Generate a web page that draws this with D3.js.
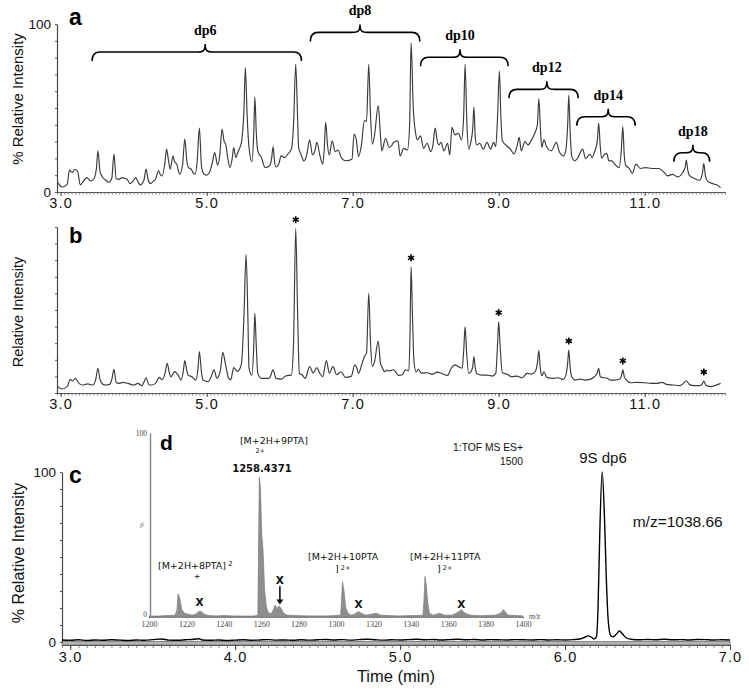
<!DOCTYPE html>
<html><head><meta charset="utf-8">
<script src="https://cdn.jsdelivr.net/npm/d3@7"></script>
<style>body{margin:0;background:#fff}svg{display:block}</style>
</head><body><svg id="chart" width="749" height="692"></svg>
<script>
// ---------- DATA ----------
// Panel a: total ion chromatogram [time (min), % relative intensity]
const traceA = [[2.96,5.6],[3.02,3],[3.09,4.6],[3.12,13],[3.16,11.6],[3.19,13.4],[3.23,12.6],[3.27,4.2],[3.32,7],[3.36,8.6],[3.41,6.6],[3.45,7.5],[3.49,14],[3.51,24.5],[3.54,12],[3.58,8.5],[3.62,7],[3.66,5.8],[3.70,8],[3.73,22.6],[3.76,8],[3.80,7.5],[3.84,8.6],[3.88,8],[3.91,7.6],[3.95,5],[3.99,6.5],[4.03,8.6],[4.06,6],[4.09,4.2],[4.14,7],[4.17,13.6],[4.20,7],[4.23,5],[4.27,6.5],[4.30,7.6],[4.34,12.6],[4.37,10],[4.39,9.5],[4.43,18],[4.45,25.5],[4.48,18],[4.50,13.6],[4.54,21.5],[4.56,18],[4.59,16.6],[4.63,10.6],[4.67,16],[4.70,31.5],[4.73,18],[4.75,14.6],[4.79,13.5],[4.82,11],[4.84,10.6],[4.87,18],[4.90,38],[4.93,15],[4.96,11],[5.00,10],[5.05,13],[5.08,18],[5.11,23.5],[5.15,16],[5.18,22],[5.21,37.5],[5.24,30],[5.26,28.5],[5.29,20],[5.32,14.6],[5.35,20],[5.37,26.5],[5.40,20.5],[5.43,24],[5.46,27],[5.48,30.5],[5.51,48],[5.53,74],[5.555,45],[5.58,26.5],[5.62,18],[5.645,35],[5.66,56.5],[5.68,35],[5.70,24.5],[5.75,20.5],[5.80,14.6],[5.86,15.5],[5.89,20],[5.91,27],[5.93,18],[5.95,15],[5.99,17],[6.02,21.5],[6.07,20.5],[6.11,22.5],[6.16,25.5],[6.19,40],[6.22,76],[6.245,45],[6.26,26.5],[6.30,21.5],[6.33,18.5],[6.37,22],[6.41,31],[6.45,22],[6.48,24],[6.51,29.5],[6.55,22],[6.59,16.6],[6.61,25],[6.63,41.5],[6.655,28],[6.68,22],[6.72,30.5],[6.76,24],[6.80,25],[6.85,20],[6.91,18.6],[6.99,19.5],[7.02,34.5],[7.05,31],[7.08,21],[7.12,28],[7.16,42.5],[7.19,42],[7.22,76],[7.245,45],[7.27,28.5],[7.30,34],[7.35,51.5],[7.38,34],[7.40,24.5],[7.45,32],[7.50,26.5],[7.54,28],[7.56,29.5],[7.62,30.5],[7.65,21.5],[7.70,26],[7.75,25],[7.78,40],[7.80,89],[7.83,50],[7.86,35.5],[7.89,31],[7.93,33.5],[7.97,26],[8.02,29],[8.07,24],[8.10,28],[8.13,38],[8.16,30],[8.18,28],[8.21,29.5],[8.25,24.5],[8.30,29],[8.33,22],[8.36,38.5],[8.40,34],[8.45,35],[8.49,31],[8.52,45],[8.54,76],[8.565,40],[8.59,25.5],[8.62,30],[8.645,38],[8.66,50.5],[8.68,32],[8.70,28],[8.74,29],[8.79,25.5],[8.84,29.5],[8.89,25.5],[8.93,29.5],[8.96,27],[8.985,45],[9.01,72],[9.03,45],[9.05,30.5],[9.11,27.5],[9.16,25.5],[9.21,22.6],[9.25,27],[9.28,32.5],[9.31,24.5],[9.36,30],[9.40,28],[9.45,31],[9.49,34.5],[9.53,40],[9.55,55.5],[9.575,35],[9.59,26.5],[9.62,31],[9.66,26.5],[9.72,24.5],[9.79,29.5],[9.83,24],[9.89,21.5],[9.92,25],[9.945,40],[9.96,57.5],[9.98,35],[10.00,21.5],[10.04,18.6],[10.08,20],[10.15,25.5],[10.19,20],[10.25,22.5],[10.28,20.5],[10.31,23.5],[10.35,30],[10.37,41],[10.39,28],[10.41,20],[10.45,22.5],[10.48,23],[10.51,18.5],[10.55,18.5],[10.59,16.5],[10.65,14.5],[10.68,25],[10.70,39],[10.72,22],[10.74,16],[10.79,14],[10.83,11],[10.88,16.6],[10.94,14],[11.01,14.5],[11.10,14],[11.19,14],[11.26,12],[11.31,9.6],[11.38,10.5],[11.45,9],[11.52,11.5],[11.555,15],[11.57,19],[11.59,13],[11.61,10],[11.68,8],[11.75,7],[11.79,11],[11.81,17],[11.83,10],[11.86,6.5],[11.93,5],[12.0,4],[12.04,2.6]];

// Panel b: extracted chromatogram [time (min), relative intensity]
const traceB = [[2.96,3.8],[3.02,2.4],[3.09,3.8],[3.13,8.2],[3.16,7.2],[3.20,8.8],[3.25,5.8],[3.30,4.8],[3.37,5.5],[3.44,4.8],[3.48,8],[3.51,14.9],[3.54,8],[3.58,5.2],[3.62,4.8],[3.67,5.2],[3.70,8],[3.73,14.3],[3.76,6.5],[3.80,5.8],[3.85,6.4],[3.92,5.8],[4.00,4.8],[4.06,5.8],[4.11,4.4],[4.14,6.5],[4.17,9.2],[4.21,5],[4.25,4.8],[4.30,5.8],[4.35,9.4],[4.39,8],[4.43,12],[4.46,17.9],[4.49,12],[4.51,9.8],[4.56,12.9],[4.61,10.8],[4.65,7.8],[4.68,13],[4.70,19.5],[4.73,13],[4.75,10.6],[4.80,9.8],[4.85,7.8],[4.88,14],[4.90,24.9],[4.93,12],[4.95,7.8],[5.02,6.8],[5.06,9.5],[5.10,13.9],[5.14,9],[5.19,14],[5.22,24.5],[5.26,16.9],[5.30,9],[5.33,8],[5.37,15.3],[5.42,13],[5.46,15],[5.48,19],[5.51,45],[5.54,83.5],[5.565,45],[5.58,15],[5.62,10.8],[5.645,28],[5.66,48],[5.68,28],[5.70,12],[5.75,8.8],[5.81,8.8],[5.86,9],[5.91,13.9],[5.95,8.8],[6.02,8.4],[6.09,10.4],[6.16,10.8],[6.19,30],[6.22,99],[6.245,50],[6.27,11.8],[6.31,10.8],[6.35,8.8],[6.41,15.9],[6.46,12],[6.51,15.3],[6.55,11.8],[6.59,9.8],[6.64,19.5],[6.68,12],[6.73,15.9],[6.78,11],[6.84,12.8],[6.90,9.4],[6.98,10],[7.03,16.9],[7.06,14.8],[7.08,11.8],[7.13,18],[7.16,21.9],[7.19,24],[7.22,60],[7.245,30],[7.27,15.9],[7.30,19],[7.35,31.3],[7.38,18],[7.40,15.9],[7.44,12.8],[7.47,13.8],[7.50,13.3],[7.56,14],[7.63,10.6],[7.68,11],[7.72,14],[7.77,13.5],[7.785,35],[7.80,76],[7.82,45],[7.84,19],[7.87,12.5],[7.90,14.3],[7.94,12],[8.02,12.2],[8.09,11.2],[8.16,12.6],[8.23,11.6],[8.30,10.6],[8.35,14.9],[8.40,16.9],[8.45,15.9],[8.50,14.9],[8.52,25],[8.54,40],[8.56,25],[8.59,11.8],[8.62,12.8],[8.645,16],[8.66,21.9],[8.68,15],[8.70,11.8],[8.77,10.8],[8.84,10.8],[8.91,10.2],[8.96,11.8],[8.985,30],[9.00,43],[9.02,28],[9.05,12.2],[9.11,11.4],[9.18,9.8],[9.25,10.2],[9.32,9.2],[9.39,11.8],[9.45,11.4],[9.50,12.8],[9.53,18],[9.55,25.5],[9.57,15],[9.59,10.4],[9.62,12.8],[9.66,9.4],[9.75,8.8],[9.81,9.2],[9.88,8.2],[9.92,10.8],[9.945,18],[9.96,25.9],[9.98,15],[10.00,9.8],[10.05,7.8],[10.12,8.4],[10.18,7.8],[10.25,8.2],[10.31,9.8],[10.35,12],[10.37,14.9],[10.39,10],[10.41,9.4],[10.48,9],[10.53,7.8],[10.59,7.8],[10.66,8.4],[10.68,10],[10.70,13.9],[10.72,10],[10.75,7.8],[10.81,6.2],[10.90,6.4],[11.00,6.2],[11.09,5.8],[11.17,5.8],[11.24,6.4],[11.30,5.2],[11.39,4.8],[11.48,4.4],[11.53,5.8],[11.57,7.4],[11.61,5.2],[11.68,4.4],[11.75,4.4],[11.79,5.5],[11.81,7.2],[11.84,4.5],[11.91,3.8],[11.97,4.6],[12.04,5.8]];

// Panel c: extracted ion chromatogram m/z=1038.66 [time (min), %]
const traceC = [[2.95,1.2],[3.0,1.0],[3.05,1.3],[3.1,0.9],[3.15,1.2],[3.2,1.0],[3.25,1.3],[3.3,1.1],[3.35,0.9],[3.4,1.2],[3.45,1.0],[3.5,1.4],[3.55,1.8],[3.6,1.1],[3.65,1.0],[3.7,1.3],[3.75,1.6],[3.78,1.9],[3.8,1.2],[3.85,1.0],[3.9,1.2],[3.95,0.9],[4.0,1.1],[4.05,1.3],[4.1,1.0],[4.15,1.2],[4.2,1.4],[4.25,1.1],[4.3,1.2],[4.35,1.0],[4.4,1.3],[4.45,1.1],[4.5,1.3],[4.55,1.5],[4.6,1.2],[4.65,1.4],[4.7,1.1],[4.75,1.4],[4.8,1.6],[4.85,1.3],[4.9,1.1],[4.95,1.3],[5.0,1.2],[5.05,1.4],[5.1,1.6],[5.15,1.3],[5.2,1.5],[5.25,1.2],[5.3,1.4],[5.35,1.6],[5.4,1.3],[5.45,1.5],[5.5,1.2],[5.55,1.4],[5.6,1.3],[5.65,1.2],[5.7,1.4],[5.75,1.3],[5.8,1.2],[5.85,1.4],[5.9,1.2],[5.95,1.3],[6.0,1.2],[6.05,1.4],[6.09,1.8],[6.12,2.8],[6.14,3.6],[6.16,2.8],[6.175,1.8],[6.19,3],[6.20,20],[6.21,62],[6.225,100],[6.24,70],[6.25,38],[6.26,15],[6.275,4],[6.29,3],[6.31,4.5],[6.33,6.5],[6.35,4.5],[6.37,2.5],[6.4,1.6],[6.45,1.3],[6.5,1.5],[6.55,1.3],[6.6,1.6],[6.65,1.3],[6.7,1.4],[6.75,1.2],[6.8,1.5],[6.85,1.4],[6.9,1.2],[6.95,1.3],[7.0,1.2]];

// Panel d (inset): mass spectrum [m/z, %]
const spectrumD = [[1200,0.5],[1205,0.5],[1210,0.8],[1214,1],[1215,4],[1215.5,12.5],[1216.5,10],[1217.5,4],[1219,2],[1221,1.5],[1223,1],[1225,1.5],[1226.5,3],[1228,3],[1229.5,1.5],[1232,0.8],[1236,0.6],[1240,0.8],[1245,0.6],[1250,0.5],[1255,0.5],[1258.2,0.8],[1258.6,40],[1259,76],[1259.6,70],[1260.3,45],[1261,36],[1261.8,15],[1262.8,5],[1264,2],[1265.5,2],[1266.5,4],[1267.5,6.5],[1268.5,4.5],[1269.5,6],[1270.8,4.5],[1272,2],[1274,1],[1278,0.8],[1285,0.6],[1290,0.6],[1295,0.6],[1300,0.8],[1302.5,1],[1303,10],[1303.5,19],[1304.3,14],[1305.2,5],[1306.5,2],[1308,1],[1310,1.5],[1311.8,3],[1313.5,2],[1316,1],[1319,1.5],[1321.5,2],[1324,1],[1328,0.8],[1333,0.6],[1338,0.7],[1343,0.8],[1346.5,1],[1347,8],[1347.6,22],[1348.3,17],[1349,8],[1350,2],[1352,1],[1355.5,2],[1358,1],[1362,1],[1365,2.5],[1367,4],[1369,2],[1372,1],[1378,0.7],[1385,1],[1388,2],[1389.5,4],[1390.8,2.5],[1392,1],[1396,0.8],[1400,0.6]];

// tick labels
const timeTicksAB = [3.0, 5.0, 7.0, 9.0, 11.0];
const timeTicksC = [3.0, 4.0, 5.0, 6.0, 7.0];
const mzTicks = [1200, 1220, 1240, 1260, 1280, 1300, 1320, 1340, 1360, 1380, 1400];
const intensityLabels = [0, 100];

// brace annotations in panel a
const braceLabels = ['dp6', 'dp8', 'dp10', 'dp12', 'dp14', 'dp18'];
const braceStart = [3.43, 6.42, 7.93, 9.14, 10.07, 11.40];
const braceEnd = [6.30, 7.92, 9.13, 10.09, 10.87, 11.89];
const braceTip = [4.98, 7.10, 8.47, 9.66, 10.50, 11.66];
const braceLevel = [83.3, 95, 80.2, 61.1, 44.8, 23.4];

// starred peaks in panel b
const starTimes = [6.22, 7.80, 9.00, 9.96, 10.70, 11.81];

// X-marked peaks in inset
const xMarkMz = [1227, 1270, 1312, 1367];
const xMarkLevel = [8, 20, 7, 7];

// ---------- DRAW ----------
const svg = d3.select('#chart');
svg.append('rect').attr('width', 749).attr('height', 692).attr('fill', '#fff');
const SANS = 'Liberation Sans, Arial, sans-serif';
const SERIF = 'Liberation Serif, Times New Roman, serif';

const xAB = d3.scaleLinear().domain([2.95, 12.1]).range([57, 725]);
const yA = d3.scaleLinear().domain([0, 100]).range([192, 24]);
const yB = d3.scaleLinear().domain([0, 100]).range([393, 227]);
const xC = d3.scaleLinear().domain([2.95, 7.0]).range([62, 730]);
const yC = d3.scaleLinear().domain([0, 100]).range([642, 472]);
const xD = d3.scaleLinear().domain([1200, 1400]).range([149, 523]);
const yD = d3.scaleLinear().domain([0, 100]).range([617, 433]);

function minorRange(scale, step) {
  const [a, b] = scale.domain();
  const out = [];
  for (let v = Math.ceil(a / step - 1e-9) * step; v <= b + 1e-9; v += step) out.push(+v.toFixed(4));
  return out;
}

function timeAxis(x, y0, ticks, labelY, fontSize, band) {
  const gMinor = svg.append('g').attr('transform', `translate(0,${y0})`);
  gMinor.call(d3.axisBottom(x).tickValues(minorRange(x, 0.05)).tickSize(band ? 3 : 2.5).tickSizeOuter(0).tickFormat(''));
  gMinor.selectAll('.tick line').attr('stroke', '#666').attr('stroke-width', 0.8);
  gMinor.select('.domain').attr('stroke', '#555').attr('stroke-width', 1);
  const gMaj = svg.append('g').attr('transform', `translate(0,${y0})`);
  gMaj.call(d3.axisBottom(x).tickValues(ticks).tickSize(band ? 5 : 4).tickSizeOuter(0).tickFormat(d3.format('.1f')));
  gMaj.select('.domain').remove();
  gMaj.selectAll('.tick line').attr('stroke', '#444');
  gMaj.attr('font-family', SANS).attr('font-size', fontSize);
  gMaj.selectAll('.tick text').attr('y', labelY).attr('dy', null).attr('fill', '#111').attr('letter-spacing', '1.2px');
}

function intensityAxis(x0, y, showLabels) {
  const g = svg.append('g').attr('transform', `translate(${x0},0)`);
  g.call(d3.axisLeft(y).tickValues(d3.range(0, 101, 10)).tickSize(2).tickSizeOuter(0)
    .tickFormat(d => (showLabels && intensityLabels.includes(d)) ? d : ''));
  g.select('.domain').attr('stroke', '#444').attr('stroke-width', 1.2);
  g.selectAll('.tick line').attr('stroke', '#555');
  g.attr('font-family', SANS).attr('font-size', 13.5);
  g.selectAll('.tick text').attr('x', -6).attr('dy', '0.36em').attr('fill', '#111');
}

function yTitle(text, cx, cy, size) {
  svg.append('text').attr('transform', `translate(${cx},${cy}) rotate(-90)`)
    .attr('text-anchor', 'middle').attr('font-family', SANS).attr('font-size', size)
    .attr('fill', '#111').text(text);
}

function panelLetter(t, x, y, size) {
  svg.append('text').attr('x', x).attr('y', y).attr('font-family', SANS)
    .attr('font-weight', 'bold').attr('font-size', size).attr('fill', '#000').text(t);
}

// ---- Panel a ----
timeAxis(xAB, 192, timeTicksAB, 16, 14.5, false);
intensityAxis(57, yA, true);
yTitle('% Relative Intensity', 23, 99, 15);
panelLetter('a', 69, 25, 23);
const lineA = d3.line().x(d => xAB(d[0])).y(d => yA(d[1])).curve(d3.curveMonotoneX);
svg.append('path').datum(traceA).attr('d', lineA).attr('fill', 'none')
  .attr('stroke', '#3a3a3a').attr('stroke-width', 1.15);

// braces
const rise = 8, drop = 9, r = 8;
braceLabels.forEach((lab, i) => {
  const x1 = xAB(braceStart[i]), x2 = xAB(braceEnd[i]), xm = xAB(braceTip[i]), y = yA(braceLevel[i]);
  const p = d3.path();
  p.moveTo(x1, y + drop);
  p.quadraticCurveTo(x1, y, x1 + r, y);
  p.lineTo(xm - r, y);
  p.bezierCurveTo(xm - 2, y, xm, y - 1, xm, y - rise);
  p.bezierCurveTo(xm, y - 1, xm + 2, y, xm + r, y);
  p.lineTo(x2 - r, y);
  p.quadraticCurveTo(x2, y, x2, y + drop);
  svg.append('path').attr('d', p.toString()).attr('fill', 'none').attr('stroke', '#000').attr('stroke-width', 1.6);
  svg.append('text').attr('x', xm).attr('y', y - rise - 9).attr('text-anchor', 'middle')
    .attr('font-family', SERIF).attr('font-weight', 'bold').attr('font-size', 14).attr('fill', '#000').text(lab);
});

// ---- Panel b ----
timeAxis(xAB, 393, timeTicksAB, 16, 14.5, false);
intensityAxis(57, yB, false);
yTitle('Relative Intensity', 23, 312, 14.5);
panelLetter('b', 69, 243, 22);
const lineB = d3.line().x(d => xAB(d[0])).y(d => yB(d[1])).curve(d3.curveMonotoneX);
svg.append('path').datum(traceB).attr('d', lineB).attr('fill', 'none')
  .attr('stroke', '#3a3a3a').attr('stroke-width', 1.15);
const star = d3.symbol().type(d3.symbolAsterisk).size(34);
starTimes.forEach(t => {
  const peak = d3.max(traceB.filter(d => Math.abs(d[0] - t) < 0.03), d => d[1]);
  svg.append('path').attr('d', star())
    .attr('transform', `translate(${xAB(t)},${yB(peak) - 9})`)
    .attr('fill', 'none').attr('stroke', '#000').attr('stroke-width', 1.6);
});

// ---- Panel c ----
svg.append('rect').attr('x', xC.range()[0]).attr('y', yC(0) - 0.5).attr('width', xC.range()[1] - xC.range()[0])
  .attr('height', 3.5).attr('fill', '#b4b4b4').attr('stroke', '#666').attr('stroke-width', 0.7);
timeAxis(xC, yC(0) + 3, timeTicksC, 17, 14.5, true);
intensityAxis(62, yC, true);
yTitle('% Relative Intensity', 23.5, 553, 16);
panelLetter('c', 69, 483, 23);
svg.append('text').attr('x', 396).attr('y', 682).attr('text-anchor', 'middle')
  .attr('font-family', SANS).attr('font-size', 16.5).attr('fill', '#111').text('Time (min)');
const lineC = d3.line().x(d => xC(d[0])).y(d => yC(d[1])).curve(d3.curveMonotoneX);
svg.append('path').datum(traceC).attr('d', lineC).attr('fill', 'none')
  .attr('stroke', '#000').attr('stroke-width', 1.4);
svg.append('text').attr('x', xC(6.23)).attr('y', yC(105.5)).attr('text-anchor', 'middle')
  .attr('font-family', SANS).attr('font-size', 15).attr('fill', '#111').text('9S dp6');
svg.append('text').attr('x', xC(6.41)).attr('y', yC(67.6))
  .attr('font-family', SANS).attr('font-size', 15.5).attr('fill', '#111').text('m/z=1038.66');

// ---- Panel d (inset) ----
const area = d3.area().x(d => xD(d[0])).y0(yD(0)).y1(d => yD(d[1]));
svg.append('path').datum(spectrumD).attr('d', area).attr('fill', '#8e8e8e')
  .attr('stroke', '#7a7a7a').attr('stroke-width', 0.7);
const gdx = svg.append('g').attr('transform', `translate(0,${yD(0)})`);
gdx.call(d3.axisBottom(xD).tickValues(mzTicks).tickSize(1.5).tickSizeOuter(0).tickFormat(d3.format('d')));
gdx.select('.domain').attr('stroke', '#888').attr('stroke-width', 1.2);
gdx.selectAll('.tick line').attr('stroke', '#888');
gdx.attr('font-family', SERIF).attr('font-size', 8);
gdx.selectAll('.tick text').attr('y', 10).attr('dy', null).attr('fill', '#444');
svg.append('text').attr('x', xD(1400) + 6).attr('y', yD(0) + 2).attr('font-family', SERIF)
  .attr('font-style', 'italic').attr('font-size', 8).attr('fill', '#444').text('m/z');
const gdy = svg.append('g').attr('transform', `translate(${xD(1200) + 1},0)`);
gdy.call(d3.axisLeft(yD).tickValues([0, 100]).tickSize(0).tickSizeOuter(0).tickFormat(d3.format('d')));
gdy.select('.domain').attr('stroke', '#888').attr('stroke-width', 1.5);
gdy.attr('font-family', SERIF).attr('font-size', 7.5);
gdy.selectAll('.tick text').attr('x', -3).attr('dy', d => d === 0 ? '-0.1em' : '0.32em').attr('fill', '#444');
svg.append('text').attr('transform', `translate(${xD(1200) - 5},${yD(50)}) rotate(-90)`)
  .attr('text-anchor', 'middle').attr('font-family', SERIF).attr('font-size', 7).attr('fill', '#666').text('%');
panelLetter('d', 160, 450, 21);

const INS = 'DejaVu Sans, Verdana, sans-serif';
function ins(t, mz, lvl, opts = {}) {
  return svg.append('text').attr('x', xD(mz)).attr('y', yD(lvl)).attr('font-family', opts.family || INS)
    .attr('font-size', opts.size || 9.5).attr('font-weight', opts.weight || 'normal')
    .attr('text-anchor', opts.anchor || 'start').attr('fill', '#111').text(t);
}
ins('[M+2H+9PTA]', 1266.8, 94, {anchor: 'middle'});
ins('2+', 1259.5, 89, {anchor: 'middle', size: 6.5});
ins('1258.4371', 1260.4, 78.8, {anchor: 'middle', weight: 'bold', size: 10});
const t8 = ins('[M+2H+8PTA]', 1204.8, 26);
t8.append('tspan').attr('font-size', 7).attr('dy', -3).text(' 2');
ins('+', 1225.7, 20.5, {anchor: 'middle', size: 7.5});
ins('[M+2H+10PTA', 1285, 31);
const t10 = ins(']', 1299.5, 24.5);
t10.append('tspan').attr('font-size', 6.5).attr('dy', -2).text(' 2+');
ins('[M+2H+11PTA', 1339.6, 31);
const t11 = ins(']', 1354, 24.5);
t11.append('tspan').attr('font-size', 6.5).attr('dy', -2).text(' 2+');
ins('1:TOF MS ES+', 1400, 90, {anchor: 'end', family: SANS, size: 10.3});
ins('1500', 1400, 82.4, {anchor: 'end', family: SANS, size: 10.3});

xMarkMz.forEach((mz, i) => {
  svg.append('text').attr('x', xD(mz)).attr('y', yD(xMarkLevel[i]) + 4).attr('text-anchor', 'middle')
    .attr('font-family', INS).attr('font-weight', 'bold').attr('font-size', 10.5).attr('fill', '#111').text('X');
});
// arrow under the second X
const ax = xD(xMarkMz[1]);
svg.append('line').attr('x1', ax).attr('x2', ax).attr('y1', yD(xMarkLevel[1]) + 6).attr('y2', yD(9))
  .attr('stroke', '#111').attr('stroke-width', 1.6);
svg.append('path').attr('d', `M${ax - 3.5},${yD(9.5)} L${ax + 3.5},${yD(9.5)} L${ax},${yD(6.8)} Z`).attr('fill', '#111');
</script>
</body></html>
